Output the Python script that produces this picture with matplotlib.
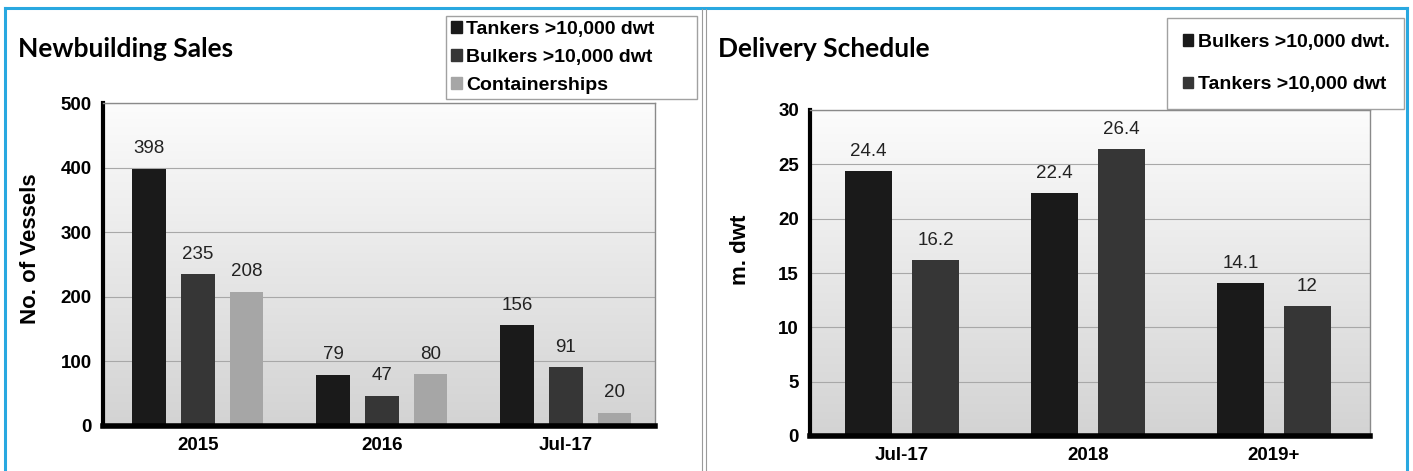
import numpy as np
import matplotlib
matplotlib.use("Agg")
import matplotlib.pyplot as plt
from matplotlib.patches import Patch
from matplotlib.lines import Line2D

# ---- data ----
sales_categories = ["2015", "2016", "Jul-17"]
sales_tankers = [398, 79, 156]
sales_bulkers = [235, 47, 91]
sales_containers = [208, 80, 20]
sales_labels = ["Tankers >10,000 dwt", "Bulkers >10,000 dwt", "Containerships"]
sales_yticks = [0, 100, 200, 300, 400, 500]

deliv_categories = ["Jul-17", "2018", "2019+"]
deliv_bulkers = [24.4, 22.4, 14.1]
deliv_tankers = [16.2, 26.4, 12]
deliv_labels = ["Bulkers >10,000 dwt.", "Tankers >10,000 dwt"]
deliv_yticks = [0, 5, 10, 15, 20, 25, 30]

NUM = "Liberation Sans"
TITLE = "Lato"

fig = plt.figure(figsize=(14.13, 4.71), dpi=100)
fig.patch.set_facecolor("white")

W, H = 1413, 471
def fx(px): return px / W
def fy(py): return 1 - py / H

# frame lines
blue = "#29a8e0"
fig.add_artist(Line2D([fx(5), fx(1407)], [fy(8), fy(8)], color=blue, lw=2.2))
fig.add_artist(Line2D([fx(5), fx(5)], [fy(8), 0], color=blue, lw=2.2))
fig.add_artist(Line2D([fx(1407), fx(1407)], [fy(8), 0], color=blue, lw=2.2))
fig.add_artist(Line2D([fx(702), fx(702)], [fy(9), 0], color="#9a9a9a", lw=0.8))
fig.add_artist(Line2D([fx(706), fx(706)], [fy(9), 0], color="#9a9a9a", lw=0.8))

grad = np.linspace(0, 1, 256).reshape(-1, 1)
gcmap = matplotlib.colors.LinearSegmentedColormap.from_list("g", ["#d3d3d3", "#fcfcfc"])

def setup_axes(ax, ymax, xlim):
    ax.imshow(grad, cmap=gcmap, extent=[xlim[0], xlim[1], 0, ymax],
              aspect="auto", zorder=0, origin="lower")
    ax.set_xlim(*xlim)
    ax.set_ylim(0, ymax)
    for s in ["top", "right"]:
        ax.spines[s].set_color("#8a8a8a")
        ax.spines[s].set_linewidth(1.0)
    ax.spines["left"].set_linewidth(3)
    ax.spines["bottom"].set_linewidth(4)
    ax.spines["left"].set_color("black")
    ax.spines["bottom"].set_color("black")
    ax.tick_params(axis="both", length=0, pad=8)
    ax.grid(axis="y", color="#a8a8a8", lw=0.8, zorder=1)
    ax.set_axisbelow(True)
    for lab in ax.get_xticklabels() + ax.get_yticklabels():
        lab.set_fontfamily(NUM)
        lab.set_fontweight("bold")
        lab.set_fontsize(13.5)

# ---- left panel ----
ax1 = fig.add_axes([fx(103), fy(426), fx(655) - fx(103), fy(103) - fy(426)])
x = np.arange(len(sales_categories))
off = 0.266
bw = 0.18
colors1 = ["#1a1a1a", "#363636", "#a6a6a6"]
series1 = [sales_tankers, sales_bulkers, sales_containers]
for i, (vals, c) in enumerate(zip(series1, colors1)):
    pos = x + (i - 1) * off
    ax1.bar(pos, vals, width=bw, color=c, zorder=2)
    for p, v in zip(pos, vals):
        ax1.text(p, v + 18, f"{v}", ha="center", va="bottom",
                 fontfamily=NUM, fontsize=13.5, color="#222222")
ax1.set_xticks(x)
ax1.set_xticklabels(sales_categories)
ax1.set_yticks(sales_yticks)
setup_axes(ax1, 500, (-0.516, 2.484))
ax1.set_ylabel("No. of Vessels", fontfamily=NUM, fontweight="bold", fontsize=16)
ax1.yaxis.set_label_coords(-0.112, 0.548)

handles1 = [Patch(facecolor=c, edgecolor=c) for c in colors1]
leg1 = fig.legend(handles1, sales_labels, loc="upper left",
                  bbox_to_anchor=(fx(446), fy(99), fx(697) - fx(446), fy(16) - fy(99)),
                  mode="expand", frameon=True, fancybox=False, borderaxespad=0,
                  prop={"family": NUM, "weight": "bold", "size": 14},
                  handlelength=0.55, handleheight=0.55, handletextpad=0.25,
                  labelspacing=0.56, borderpad=0.25)
leg1.get_frame().set_edgecolor("#8a8a8a")
leg1.get_frame().set_linewidth(1.0)
leg1.set_zorder(10)

fig.text(fx(18), fy(49), "Newbuilding Sales", fontfamily=TITLE, fontweight="bold",
         fontsize=19, va="center", ha="left")

# ---- right panel ----
ax2 = fig.add_axes([fx(810), fy(436), fx(1370) - fx(810), fy(110) - fy(436)])
x2 = np.arange(len(deliv_categories))
off2 = 0.18
bw2 = 0.25
colors2 = ["#1a1a1a", "#363636"]
series2 = [deliv_bulkers, deliv_tankers]
for i, (vals, c) in enumerate(zip(series2, colors2)):
    pos = x2 + (i - 0.5) * 2 * off2
    ax2.bar(pos, vals, width=bw2, color=c, zorder=2)
    for p, v in zip(pos, vals):
        ax2.text(p, v + 1.0, f"{v}", ha="center", va="bottom",
                 fontfamily=NUM, fontsize=13.5, color="#222222")
ax2.set_xticks(x2)
ax2.set_xticklabels(deliv_categories)
ax2.set_yticks(deliv_yticks)
setup_axes(ax2, 30, (-0.495, 2.516))
ax2.set_ylabel("m. dwt", fontfamily=NUM, fontweight="bold", fontsize=16)
ax2.yaxis.set_label_coords(-0.105, 0.571)

handles2 = [Patch(facecolor=c, edgecolor=c) for c in colors2]
leg2 = fig.legend(handles2, deliv_labels, loc="upper left",
                  bbox_to_anchor=(fx(1167), fy(107), fx(1404) - fx(1167), fy(18) - fy(107)),
                  mode="expand", frameon=True, fancybox=False, borderaxespad=0,
                  prop={"family": NUM, "weight": "bold", "size": 14},
                  handlelength=0.55, handleheight=0.55, handletextpad=0.25,
                  labelspacing=1.33, borderpad=0.8)
leg2.get_frame().set_edgecolor("#8a8a8a")
leg2.get_frame().set_linewidth(1.0)
leg2.set_zorder(10)

fig.text(fx(718), fy(49), "Delivery Schedule", fontfamily=TITLE, fontweight="bold",
         fontsize=19, va="center", ha="left")

fig.savefig("out.png", dpi=100, facecolor="white")
